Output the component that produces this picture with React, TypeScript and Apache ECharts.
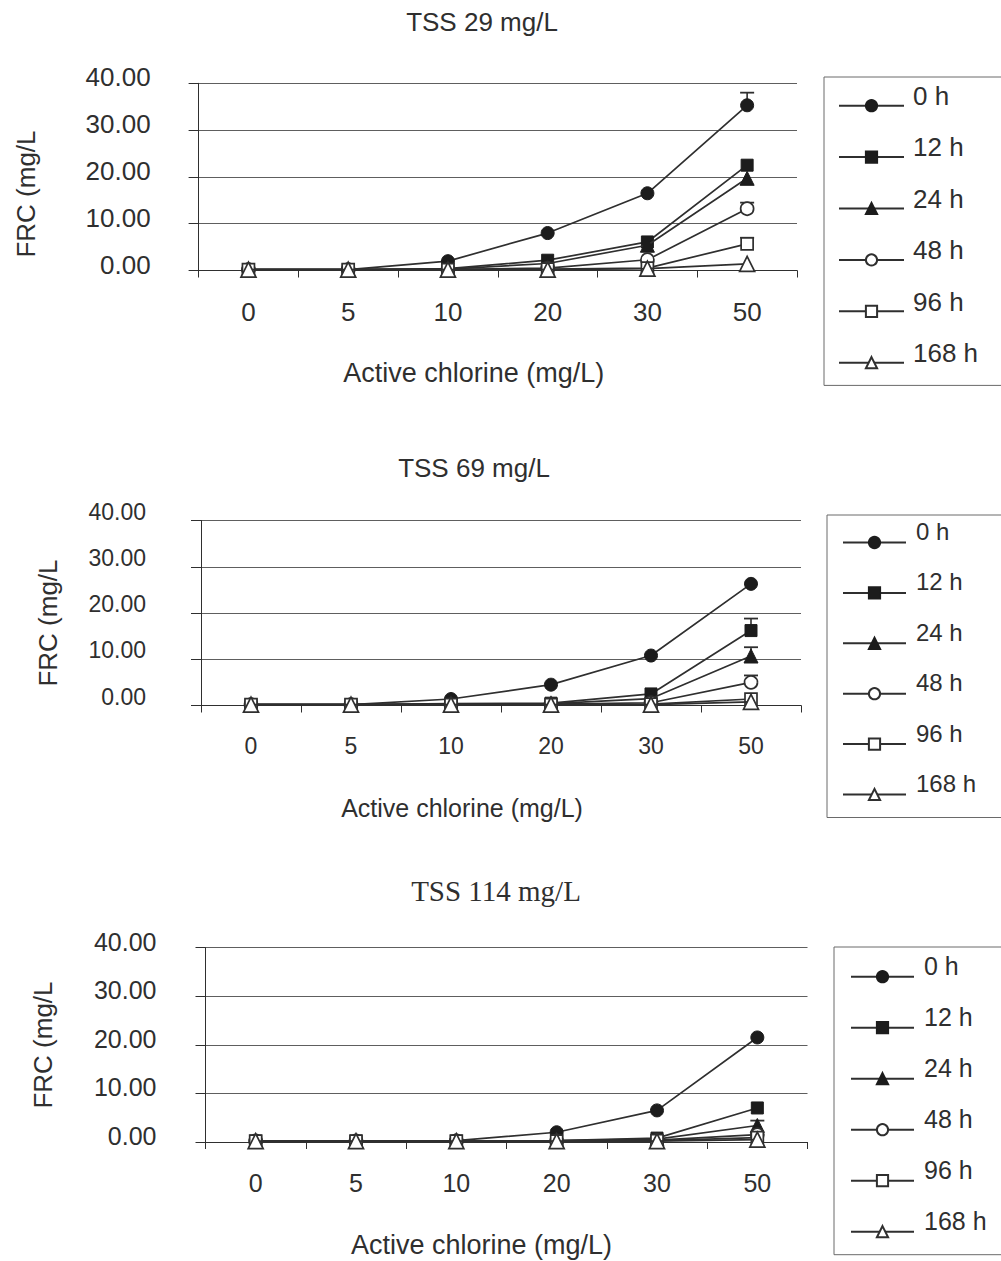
import React, { useEffect, useRef } from "react";
import * as echarts from "echarts";

// ---------- data ----------
const categories = ["0", "5", "10", "20", "30", "50"];
const seriesNames = ["0 h", "12 h", "24 h", "48 h", "96 h", "168 h"];
const panelTitles = ["TSS 29 mg/L", "TSS 69 mg/L", "TSS 114 mg/L"];
const xAxisTitle = "Active chlorine (mg/L)";
const yAxisTitle = "FRC (mg/L";
const yTicks = [0, 10, 20, 30, 40];

// TSS 29 mg/L
const tss29_0h = [0.2, 0.2, 2.0, 8.0, 16.5, 35.3];
const tss29_12h = [0.2, 0.2, 0.4, 2.2, 6.1, 22.5];
const tss29_24h = [0.2, 0.2, 0.3, 1.5, 5.4, 19.7];
const tss29_48h = [0.2, 0.2, 0.2, 0.5, 2.3, 13.2];
const tss29_96h = [0.2, 0.2, 0.2, 0.3, 0.5, 5.7];
const tss29_168h = [0.2, 0.2, 0.2, 0.2, 0.4, 1.4];
// error-bar tops: [series index, category index, upper value]
const tss29_err = [[0, 5, 38.0], [3, 5, 14.5], [4, 5, 7.0]];

// TSS 69 mg/L
const tss69_0h = [0.2, 0.2, 1.4, 4.5, 10.8, 26.3];
const tss69_12h = [0.2, 0.2, 0.4, 0.5, 2.5, 16.2];
const tss69_24h = [0.2, 0.2, 0.3, 0.4, 1.5, 10.7];
const tss69_48h = [0.2, 0.2, 0.2, 0.3, 0.6, 5.0];
const tss69_96h = [0.2, 0.2, 0.2, 0.2, 0.3, 1.4];
const tss69_168h = [0.2, 0.2, 0.2, 0.2, 0.2, 0.8];
const tss69_err = [[1, 5, 18.8], [2, 5, 12.6], [3, 5, 6.5]];

// TSS 114 mg/L
const tss114_0h = [0.2, 0.2, 0.3, 2.0, 6.5, 21.5];
const tss114_12h = [0.2, 0.2, 0.2, 0.3, 0.8, 7.0];
const tss114_24h = [0.2, 0.2, 0.2, 0.3, 0.6, 3.4];
const tss114_48h = [0.2, 0.2, 0.2, 0.2, 0.4, 1.5];
const tss114_96h = [0.2, 0.2, 0.2, 0.2, 0.3, 0.9];
const tss114_168h = [0.2, 0.2, 0.2, 0.2, 0.2, 0.5];
const tss114_err = [[2, 5, 4.4]];

const panelValues = [
  [tss29_0h, tss29_12h, tss29_24h, tss29_48h, tss29_96h, tss29_168h],
  [tss69_0h, tss69_12h, tss69_24h, tss69_48h, tss69_96h, tss69_168h],
  [tss114_0h, tss114_12h, tss114_24h, tss114_48h, tss114_96h, tss114_168h],
];
const panelErrors = [tss29_err, tss69_err, tss114_err];

// ---------- styling / layout ----------
const SANS = "'Liberation Sans', Arial, Helvetica, sans-serif";
const SERIF = "'Liberation Serif', 'Times New Roman', serif";
const INK = "#2f2f2f";
const GRIDC = "#5e5e5e";

const symbols = ["circle", "rect", "triangle", "circle", "rect", "triangle"];
const filled = [true, true, true, false, false, false];
const symbolSizes = [13, 12, 14, 13, 12, 15];

const layouts = [
  {
    titleFont: SANS, titleSize: 26, titleX: 482, titleY: 7,
    grid: { left: 198.6, top: 83.3, width: 598.4, height: 187.2 },
    yLabelMargin: 48, yLabelLift: 6, labelSize: 26,
    xLabelMargin: 28, xNameGap: 87, xNameShift: 24, nameSize: 27,
    yName: { x: 26, y: 194 },
    legend: { left: 824, top: 77, padTop: 6, padLeft: 14, iconW: 65, lh: 19.4, gap: 6, textPad: 4, size: 26 },
  },
  {
    titleFont: SANS, titleSize: 26, titleX: 474, titleY: 453,
    grid: { left: 201, top: 520.5, width: 600, height: 185 },
    yLabelMargin: 55, yLabelLift: 9, labelSize: 23,
    xLabelMargin: 27, xNameGap: 87, xNameShift: 39, nameSize: 25,
    yName: { x: 48, y: 623 },
    legend: { left: 827, top: 515, padTop: 4.5, padLeft: 15, iconW: 63, lh: 22, gap: 4.4, textPad: 5, size: 24 },
  },
  {
    titleFont: SERIF, titleSize: 29, titleX: 496, titleY: 876,
    grid: { left: 205.5, top: 947.5, width: 602, height: 196 },
    yLabelMargin: 49, yLabelLift: 6, labelSize: 25,
    xLabelMargin: 28, xNameGap: 88, xNameShift: 25, nameSize: 27,
    yName: { x: 43, y: 1045 },
    legend: { left: 834, top: 947, padTop: 6.7, padLeft: 16, iconW: 63, lh: 21, gap: 5, textPad: 5, size: 25 },
  },
];

function buildOption() {
  const title: any[] = [];
  const grid: any[] = [];
  const xAxis: any[] = [];
  const yAxis: any[] = [];
  const legend: any[] = [];
  const series: any[] = [];
  const graphic: any[] = [];

  layouts.forEach((L, i) => {
    title.push({
      text: panelTitles[i],
      left: L.titleX,
      top: L.titleY,
      textAlign: "center",
      padding: 0,
      textStyle: {
        fontFamily: L.titleFont,
        fontSize: L.titleSize,
        fontWeight: "normal",
        color: INK,
        lineHeight: 30,
      },
    });
    grid.push({ ...L.grid });
    xAxis.push({
      type: "category",
      gridIndex: i,
      data: categories,
      boundaryGap: true,
      axisLine: { show: true, lineStyle: { color: INK, width: 1.2 } },
      axisTick: { show: true, length: 7, lineStyle: { color: INK, width: 1 } },
      axisLabel: {
        fontFamily: SANS,
        fontSize: L.labelSize,
        color: INK,
        margin: L.xLabelMargin,
        lineHeight: 26,
      },
      splitLine: { show: false },
      name: xAxisTitle,
      nameLocation: "middle",
      nameGap: L.xNameGap,
      nameTextStyle: {
        fontFamily: SANS,
        fontSize: L.nameSize,
        color: INK,
        lineHeight: 30,
        padding: [0, L.xNameShift * 2, 0, 0],
      },
    });
    yAxis.push({
      type: "value",
      gridIndex: i,
      min: yTicks[0],
      max: yTicks[yTicks.length - 1],
      interval: yTicks[1] - yTicks[0],
      axisLine: { show: true, lineStyle: { color: INK, width: 1 } },
      axisTick: { show: true, length: 10, lineStyle: { color: INK, width: 1 } },
      axisLabel: {
        fontFamily: SANS,
        fontSize: L.labelSize,
        color: INK,
        margin: L.yLabelMargin,
        verticalAlign: "bottom",
        lineHeight: L.yLabelLift * 2,
        formatter: (v: number) => v.toFixed(2),
      },
      splitLine: { show: true, lineStyle: { color: GRIDC, width: 1.2 } },
    });
    legend.push({
      orient: "vertical",
      left: L.legend.left,
      top: L.legend.top,
      data: seriesNames,
      itemWidth: L.legend.iconW,
      itemHeight: 14,
      itemGap: L.legend.gap,
      padding: [L.legend.padTop, 90, 0, L.legend.padLeft],
      borderColor: "#6a6a6a",
      borderWidth: 1,
      selectedMode: false,
      formatter: (name: string) => name + "\n",
      textStyle: {
        fontFamily: SANS,
        fontSize: L.legend.size,
        color: INK,
        lineHeight: L.legend.lh,
        padding: [0, 0, 0, L.legend.textPad],
      },
    });
    graphic.push({
      type: "text",
      x: L.yName.x,
      y: L.yName.y,
      rotation: Math.PI / 2,
      style: {
        text: yAxisTitle,
        fontFamily: SANS,
        fontSize: 26,
        fill: INK,
        align: "center",
        verticalAlign: "middle",
      },
    });

    const vals = panelValues[i];
    const errs = panelErrors[i];
    series.push({
      type: "custom",
      name: "error bars " + i,
      xAxisIndex: i,
      yAxisIndex: i,
      silent: true,
      z: 1,
      encode: { x: 0, y: [1, 2] },
      data: errs.map(([s, c, hi]) => [c, vals[s][c], hi]),
      renderItem: (params: any, api: any) => {
        const base = api.coord([api.value(0), api.value(1)]);
        const top = api.coord([api.value(0), api.value(2)]);
        const hw = 7;
        return {
          type: "group",
          children: [
            {
              type: "line",
              shape: { x1: base[0], y1: base[1], x2: top[0], y2: top[1] },
              style: { stroke: INK, lineWidth: 1.6 },
            },
            {
              type: "line",
              shape: { x1: top[0] - hw, y1: top[1], x2: top[0] + hw, y2: top[1] },
              style: { stroke: INK, lineWidth: 1.8 },
            },
          ],
        };
      },
    });
    seriesNames.forEach((name, s) => {
      series.push({
        type: "line",
        name,
        xAxisIndex: i,
        yAxisIndex: i,
        data: vals[s],
        symbol: symbols[s],
        symbolSize: symbolSizes[s],
        showSymbol: true,
        z: 3 + s,
        lineStyle: { color: INK, width: 1.7 },
        itemStyle: filled[s]
          ? { color: "#1c1c1c", borderColor: "#1c1c1c", borderWidth: 1 }
          : { color: "#ffffff", borderColor: INK, borderWidth: 1.7 },
        emphasis: { disabled: true },
      });
    });
  });

  return {
    animation: false,
    backgroundColor: "#ffffff",
    title,
    grid,
    xAxis,
    yAxis,
    legend,
    series,
    graphic,
  };
}

export default function App() {
  const ref = useRef<HTMLDivElement | null>(null);
  useEffect(() => {
    if (!ref.current) return;
    const chart = echarts.init(ref.current, undefined, { renderer: "svg" });
    chart.setOption(buildOption() as any);
    return () => {
      chart.dispose();
    };
  }, []);
  return (
    <div
      ref={ref}
      style={{ position: "absolute", left: 0, top: 0, width: 1001, height: 1261 }}
    />
  );
}
